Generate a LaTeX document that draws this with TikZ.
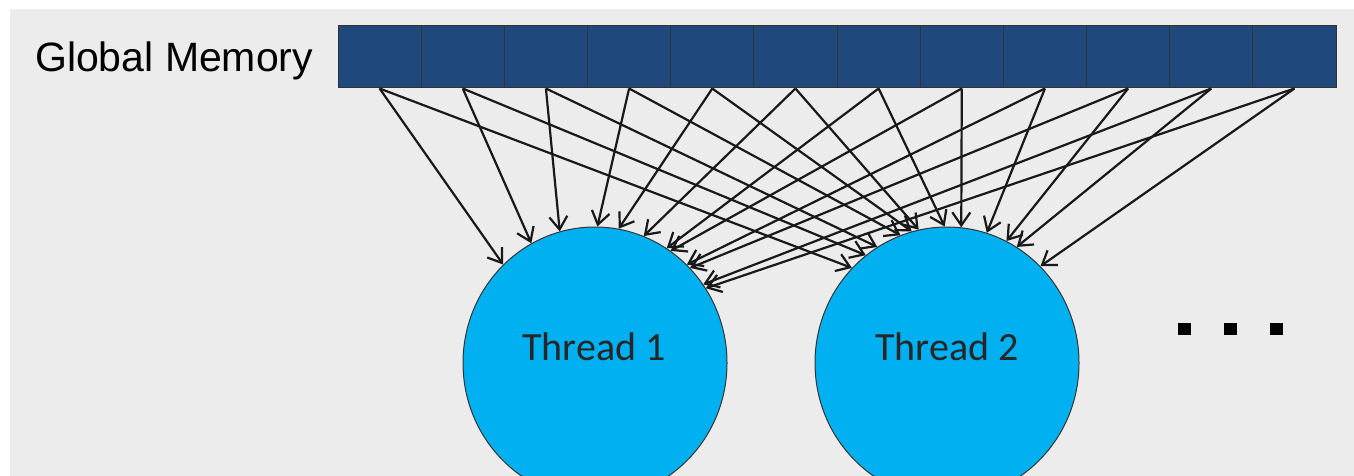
\documentclass[tikz,border=0pt]{standalone}
\usepackage{fontspec}
\setmainfont{Liberation Sans}
\newfontfamily\calibri{Carlito}
\usetikzlibrary{shapes.geometric, arrows.meta}
\definecolor{memblue}{RGB}{31,73,125}
\definecolor{thrblue}{RGB}{0,176,240}
\definecolor{bggray}{RGB}{236,236,236}
\begin{document}
\begin{tikzpicture}[x=1pt,y=-1pt,
  cell/.style={draw=black!80, fill=memblue, minimum width=83.17pt, minimum height=62pt, inner sep=0pt, line width=1pt},
  thread/.style={ellipse, draw=black!80, fill=thrblue, minimum width=264pt, minimum height=272pt, inner sep=0pt, line width=1pt},
  link/.style={-{Straight Barb[length=13pt,width=18pt]}, line width=2.2pt, black!90},
  lbl/.style={font=\calibri\fontsize{40}{48}\selectfont, text=black!85, inner sep=0pt},
  dotbox/.style={fill=black, minimum width=13pt, minimum height=12pt, inner sep=0pt}
]
\clip (0,0) rectangle (1354,476);
\fill[white] (0,0) rectangle (1354,476);
\fill[bggray] (10,9) rectangle (1354,476);

\node[anchor=base west, inner sep=0pt, font=\fontsize{41}{49}\selectfont] (gm) at (35,72) {Global Memory};

\foreach \i in {1,...,12}
  \node[cell] (c\i) at ({338+83.17*(\i-0.5)},57) {};

\node[thread] (t1) at (595,363) {};
\node[thread] (t2) at (947,363) {};
\node[lbl, anchor=base] (l1) at (594,360) {Thread 1};
\node[lbl, anchor=base] (l2) at (947,360) {Thread 2};

\node[dotbox] (d1) at (1184,329) {};
\node[dotbox] (d2) at (1230,329) {};
\node[dotbox] (d3) at (1276,329) {};

\foreach \i/\a in {1/133,2/118,3/105,4/89,5/80,6/69,7/58,8/56,9/47,10/45,11/36,12/34}
  \draw[link] (c\i.south) -- (t1.\a);
\foreach \i/\a in {1/135,2/127,3/121,4/110,5/105,6/102,7/91,8/84,9/73,10/64,11/59,12/46}
  \draw[link] (c\i.south) -- (t2.\a);
\end{tikzpicture}
\end{document}
